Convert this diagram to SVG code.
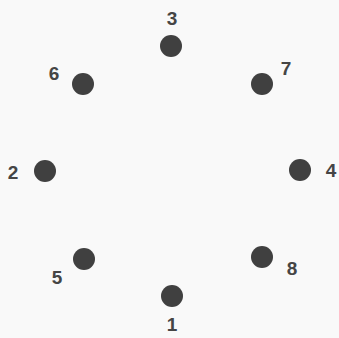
<svg xmlns="http://www.w3.org/2000/svg" width="339" height="338" viewBox="0 0 339 338">
<style>
.dot{fill:#404040}
.lbl{font-family:"Liberation Sans",Arial,sans-serif;font-weight:bold;font-size:19px;fill:#454545;text-anchor:middle;dominant-baseline:central}
</style>
<rect width="339" height="338" fill="#f9f9f9"/>
<g id="n3"><circle class="dot" cx="171" cy="46" r="11"/><text class="lbl" x="172" y="18">3</text></g>
<g id="n6"><circle class="dot" cx="83" cy="84" r="11"/><text class="lbl" x="54" y="73">6</text></g>
<g id="n7"><circle class="dot" cx="262" cy="84" r="11"/><text class="lbl" x="286" y="68">7</text></g>
<g id="n2"><circle class="dot" cx="45" cy="171" r="11"/><text class="lbl" x="13" y="172">2</text></g>
<g id="n4"><circle class="dot" cx="300" cy="170" r="11"/><text class="lbl" x="331" y="170">4</text></g>
<g id="n5"><circle class="dot" cx="84" cy="259" r="11"/><text class="lbl" x="57" y="277">5</text></g>
<g id="n8"><circle class="dot" cx="262" cy="257" r="11"/><text class="lbl" x="292" y="268">8</text></g>
<g id="n1"><circle class="dot" cx="172" cy="296" r="11"/><text class="lbl" x="172" y="324">1</text></g>
<g id="connectors"></g>
</svg>
